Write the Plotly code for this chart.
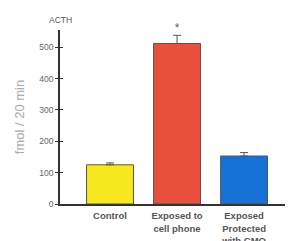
import plotly.graph_objects as go

categories = ["Control", "Exposed to<br>cell phone", "Exposed<br>Protected<br>with CMO"]
values = [125, 512, 153]
errors = [6, 26, 11]
colors = ["#f7e81f", "#ea4f3c", "#1871d6"]
y_ticks = [0, 100, 200, 300, 400, 500]

fig = go.Figure()
fig.add_trace(go.Bar(
    x=[0, 1, 2], y=values, width=0.70,
    marker=dict(color=colors, line=dict(color="#555", width=1)),
    error_y=dict(type="data", array=errors, arrayminus=[0, 0, 0], symmetric=False,
                 color="#555", thickness=1, width=4),
    showlegend=False,
))
# significance marker
fig.add_trace(go.Scatter(
    x=[1], y=[values[1] + errors[1]], mode="text", text=["*"],
    textposition="top center", cliponaxis=False,
    textfont=dict(size=12, color="#666", family="Liberation Sans"),
    showlegend=False, hoverinfo="skip",
))
# inside ticks on overlay axis to create crossing ticks
fig.add_trace(go.Scatter(x=[0], y=[0], yaxis="y2", mode="markers",
                         marker=dict(opacity=0), showlegend=False, hoverinfo="skip"))

# page body has an 8px margin, so the figure is sized/offset to compensate
fig.update_layout(
    width=285, height=233,
    margin=dict(l=52, r=0, t=22, b=37),
    paper_bgcolor="white", plot_bgcolor="white",
    font=dict(family="Liberation Sans, Arial, sans-serif", color="#555"),
    xaxis=dict(
        range=[-0.746, 2.73], tickmode="array", tickvals=[0, 1, 2],
        ticktext=["<b>" + c.replace("<br>", "</b><br><b>") + "</b>" for c in categories],
        showgrid=False, zeroline=False, showline=True, linecolor="#333", linewidth=1.5,
        ticks="", automargin=False, ticklabelstandoff=2,
        tickfont=dict(size=9.5, color="#555", family="Liberation Sans"),
    ),
    yaxis=dict(
        range=[0, 555], tickmode="array", tickvals=y_ticks, automargin=False,
        showgrid=False, zeroline=False, showline=True, linecolor="#333", linewidth=1.5,
        ticks="outside", ticklen=3, tickwidth=1.2, tickcolor="#333",
        tickfont=dict(size=8.5, color="#666"),
        title=dict(text="fmol / 20 min", font=dict(size=13, color="#aaa"), standoff=12),
    ),
    yaxis2=dict(
        range=[0, 555], overlaying="y", side="left", tickmode="array", tickvals=y_ticks,
        showgrid=False, zeroline=False, showline=False, showticklabels=False,
        automargin=False,
        ticks="inside", ticklen=3, tickwidth=1.2, tickcolor="#333",
    ),
    annotations=[dict(
        text="ACTH", xref="paper", yref="paper", x=0, y=1, xanchor="center", yanchor="bottom",
        yshift=3, showarrow=False, font=dict(size=8.5, color="#555"),
    )],
)

fig.write_html("out.html")
